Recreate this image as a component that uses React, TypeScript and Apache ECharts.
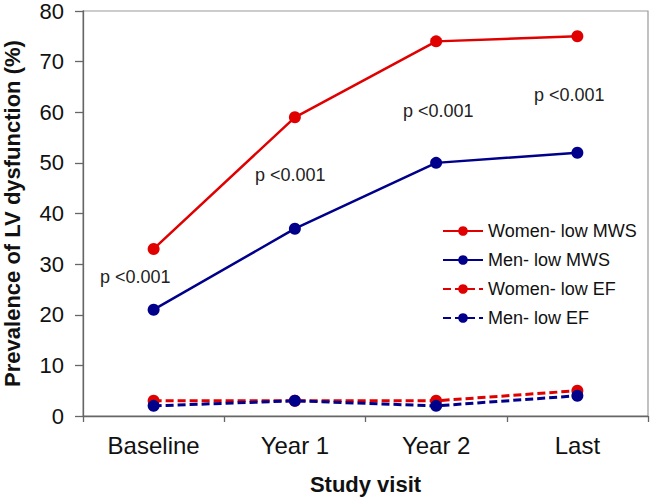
import React, { useEffect, useRef } from "react";
import * as echarts from "echarts";

const categories = ["Baseline", "Year 1", "Year 2", "Last"];
const womenLowMWS = [33, 59, 74, 75];
const menLowMWS = [21, 37, 50, 52];
const womenLowEF = [3, 3, 3, 5];
const menLowEF = [2, 3, 2, 4];
const seriesNames = ["Women- low MWS", "Men- low MWS", "Women- low EF", "Men- low EF"];
const pLabels = ["p <0.001", "p <0.001", "p <0.001", "p <0.001"];

const RED = "#e00000";
const NAVY = "#00008b";
const FONT = "'Liberation Sans', Arial, sans-serif";
const AXIS = "#666";

export default function App() {
  const ref = useRef<HTMLDivElement>(null);
  useEffect(() => {
    if (!ref.current) return;
    const chart = echarts.init(ref.current, undefined, { renderer: "svg" });
    const mk = (name: string, data: number[], color: string, dashed: boolean) => ({
      name,
      type: "line",
      data,
      symbol: "circle",
      symbolSize: 12,
      z: 3,
      itemStyle: { color },
      lineStyle: { color, width: dashed ? 3 : 2.5, type: dashed ? [8, 4] : "solid" },
    });
    const pPos = [
      [100, 277],
      [255, 175],
      [403, 111],
      [534, 95],
    ];
    chart.setOption({
      animation: false,
      textStyle: { fontFamily: FONT },
      grid: {
        left: 83,
        top: 11,
        right: 2,
        bottom: 83,
        containLabel: false,
        outerBoundsMode: "none",
        show: true,
        borderColor: "#999",
        borderWidth: 1.2,
        backgroundColor: "transparent",
      },
      xAxis: {
        type: "category",
        data: categories,
        boundaryGap: true,
        axisLine: { show: true, onZero: false, lineStyle: { color: AXIS, width: 1.3 } },
        axisTick: { show: true, length: 6, lineStyle: { color: AXIS, width: 1.3 } },
        axisLabel: { color: "#111", fontSize: 24, margin: 17, fontFamily: FONT },
        name: "Study visit",
        nameLocation: "middle",
        nameGap: 57,
        nameTextStyle: { fontSize: 22, fontWeight: "bold", color: "#111", fontFamily: FONT, verticalAlign: "top" },
      },
      yAxis: {
        type: "value",
        min: 0,
        max: 80,
        interval: 10,
        splitLine: { show: false },
        axisLine: { show: true, lineStyle: { color: AXIS, width: 1.3 } },
        axisTick: { show: true, length: 8, lineStyle: { color: AXIS, width: 1.3 } },
        axisLabel: { color: "#111", fontSize: 22, margin: 19, fontFamily: FONT },
        name: "Prevalence of LV dysfunction (%)",
        nameLocation: "middle",
        nameGap: 60,
        nameTextStyle: { fontSize: 22, fontWeight: "bold", color: "#111", fontFamily: FONT },
      },
      legend: {
        orient: "vertical",
        left: 442,
        top: 222,
        padding: 0,
        itemWidth: 40,
        itemHeight: 12,
        itemGap: 11,
        data: seriesNames,
        textStyle: { fontSize: 18, color: "#111", fontFamily: FONT },
      },
      series: [
        mk(seriesNames[0], womenLowMWS, RED, false),
        mk(seriesNames[1], menLowMWS, NAVY, false),
        mk(seriesNames[2], womenLowEF, RED, true),
        mk(seriesNames[3], menLowEF, NAVY, true),
      ],
      graphic: pLabels.map((t, i) => ({
        type: "text",
        x: pPos[i][0],
        y: pPos[i][1],
        style: {
          text: t,
          fontSize: 18,
          fontFamily: FONT,
          fill: "#222",
          verticalAlign: "middle",
        },
      })),
    });
    return () => chart.dispose();
  }, []);
  return (
    <div
      ref={ref}
      style={{ position: "absolute", left: 0, top: 0, width: 650, height: 499 }}
    />
  );
}
